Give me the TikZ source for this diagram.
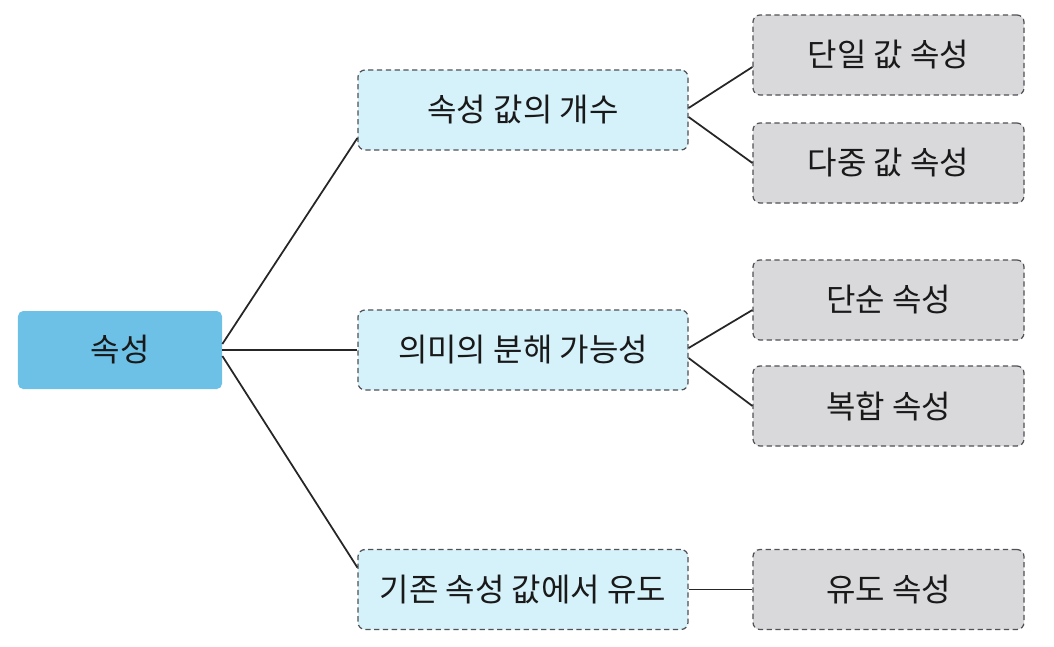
\documentclass[tikz,border=0pt]{standalone}
\usepackage{fontspec}
\setmainfont{Noto Sans CJK KR}
\usetikzlibrary{calc}

\definecolor{rootblue}{RGB}{110,193,230}
\definecolor{midcyan}{RGB}{213,241,249}
\definecolor{leafgray}{RGB}{217,217,220}
\definecolor{edgegray}{RGB}{80,80,85}

\begin{document}
\begin{tikzpicture}[
    every node/.style={font=\fontsize{18.2}{22}\selectfont, text=black!90},
    rootbox/.style={fill=rootblue, rounded corners=3pt, minimum width=4.08cm, minimum height=1.56cm},
    midbox/.style={draw=edgegray, densely dashed, fill=midcyan, rounded corners=4pt, line width=0.7pt, minimum width=6.6cm, minimum height=1.6cm},
    leafbox/.style={draw=edgegray, densely dashed, fill=leafgray, rounded corners=4pt, line width=0.7pt, minimum width=5.42cm, minimum height=1.6cm},
    link/.style={draw=black!85, line width=1pt}
]
            \useasboundingbox (0,0) rectangle (21.08,-12.92);

            \node[rootbox] (attr) at (2.40,-7.00) {속성};

            \node[midbox] (count) at (10.46,-2.20) {속성 값의 개수};
            \node[midbox] (split) at (10.46,-7.00) {의미의 분해 가능성};
            \node[midbox] (derive) at (10.46,-11.79) {기존 속성 값에서 유도};

            \node[leafbox] (single) at (17.77,-1.10) {단일 값 속성};
            \node[leafbox] (multi) at (17.77,-3.26) {다중 값 속성};
            \node[leafbox] (simple) at (17.77,-6.00) {단순 속성};
            \node[leafbox] (compound) at (17.77,-8.12) {복합 속성};
            \node[leafbox] (derived) at (17.77,-11.79) {유도 속성};

            \draw[link] ([yshift=0.12cm]attr.east) -- ([yshift=-0.56cm]count.west);
            \draw[link] (attr.east) -- (split.west);
            \draw[link] ([yshift=-0.12cm]attr.east) -- ([yshift=0.44cm]derive.west);

            \draw[link] ([yshift=0.04cm]count.east) -- ([yshift=-0.24cm]single.west);
            \draw[link] ([yshift=-0.14cm]count.east) -- (multi.west);
            \draw[link] ([yshift=0.04cm]split.east) -- ([yshift=-0.20cm]simple.west);
            \draw[link] ([yshift=-0.16cm]split.east) -- (compound.west);
            \draw[link] (derive.east) -- (derived.west);
        \end{tikzpicture}
\end{document}
